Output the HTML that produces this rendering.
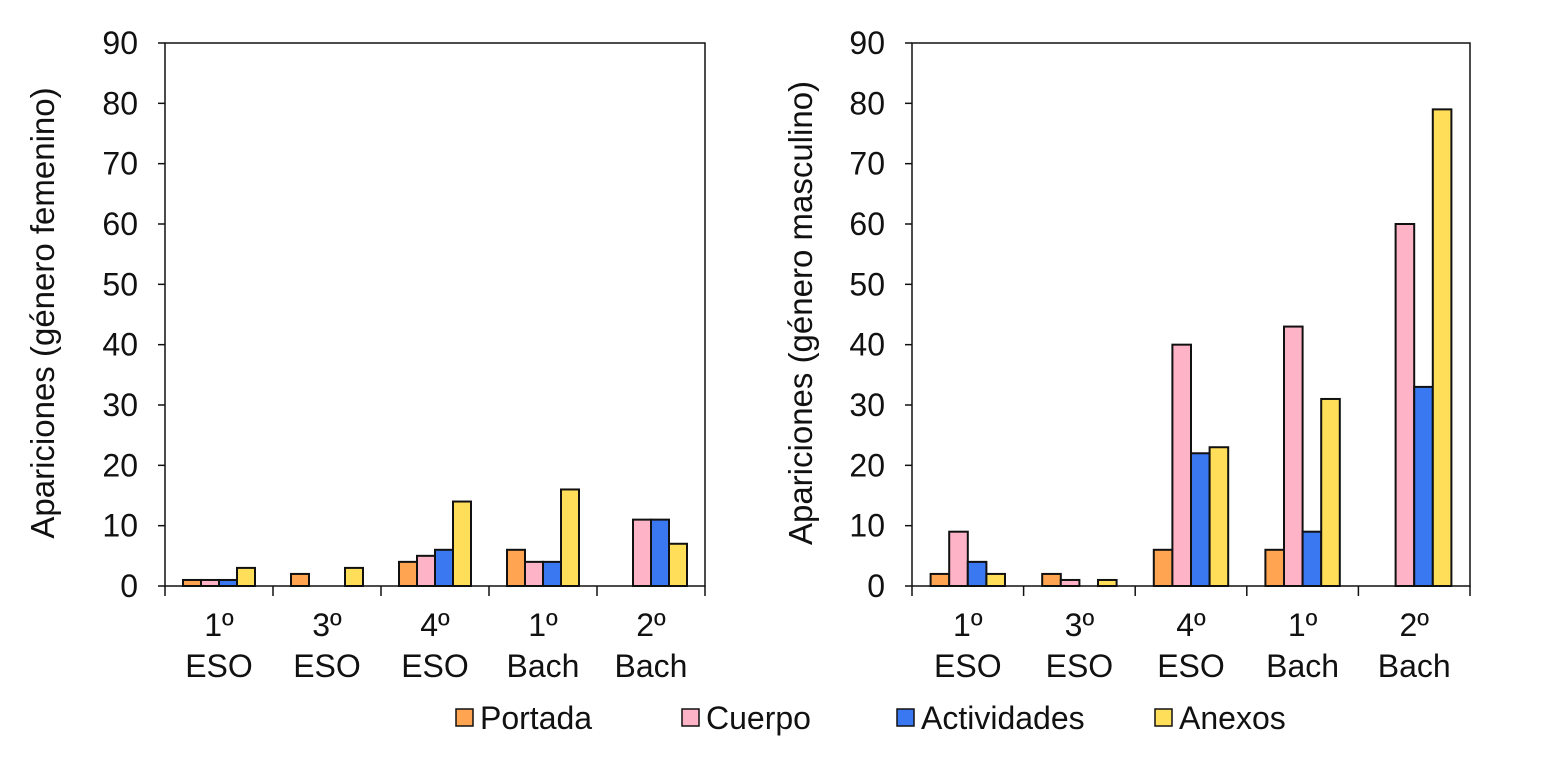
<!DOCTYPE html>
<html><head><meta charset="utf-8"><style>
body{margin:0;background:#fff;}
svg text{font-family:"Liberation Sans",sans-serif;fill:#111;}
</style></head><body>
<svg id="s" width="1542" height="754" xmlns="http://www.w3.org/2000/svg"></svg>
<script>
const categories = [["1º","ESO"],["3º","ESO"],["4º","ESO"],["1º","Bach"],["2º","Bach"]];
const seriesNames = ["Portada","Cuerpo","Actividades","Anexos"];
const colors = ["#FFA552","#FFB3C6","#3A78F2","#FFDE59"];
const femPortada = [1,2,4,6,0];
const femCuerpo = [1,0,5,4,11];
const femActividades = [1,0,6,4,11];
const femAnexos = [3,3,14,16,7];
const masPortada = [2,2,6,6,0];
const masCuerpo = [9,1,40,43,60];
const masActividades = [4,0,22,9,33];
const masAnexos = [2,1,23,31,79];
const yTicks = [0,10,20,30,40,50,60,70,80,90];

const NS="http://www.w3.org/2000/svg";
const svg=document.getElementById('s');
function mk(tag,attrs,parent,txt){const e=document.createElementNS(NS,tag);for(const k in attrs)e.setAttribute(k,attrs[k]);if(txt!==undefined)e.textContent=txt;(parent||svg).appendChild(e);return e;}

function chart(x0,x1,title,titleX,series,name){
  const y0=586,yTop=43,ymax=90;
  const g=mk('g',{});
  
  
  const ys=v=>y0-(v/ymax)*(y0-yTop);
  const cw=(x1-x0)/categories.length, bw=cw/6;
  series.forEach((vals,si)=>{
    vals.forEach((v,ci)=>{
      if(v<=0)return;
      const r=mk('rect',{x:x0+ci*cw+bw*(si+1),y:ys(v),width:bw,height:y0-ys(v),fill:colors[si],stroke:'#111','stroke-width':2},g);
      
      
    });
  });
  const b=mk('rect',{x:x0,y:yTop,width:x1-x0,height:y0-yTop,fill:'none',stroke:'#111','stroke-width':1.5},g);
  
  
  yTicks.forEach(t=>{
    mk('line',{x1:x0-7,x2:x0,y1:ys(t),y2:ys(t),stroke:'#111','stroke-width':1.5},g);
    const tx=mk('text',{x:x0-27,y:ys(t)+11,'font-size':32,'text-anchor':'end'},g,t);
    
    
  });
  for(let i=0;i<=categories.length;i++){
    mk('line',{x1:x0+i*cw,x2:x0+i*cw,y1:y0,y2:y0+10,stroke:'#111','stroke-width':1.5},g);
  }
  categories.forEach((c,i)=>{
    const cx=x0+(i+0.5)*cw;
    const t1=mk('text',{x:cx,y:636,'font-size':32,'text-anchor':'middle'},g,c[0]);
    
    
    const t2=mk('text',{x:cx,y:677,'font-size':32,'text-anchor':'middle'},g,c[1]);
    
    
  });
  const tcy=313;
  const yt=mk('text',{x:titleX,y:tcy,'font-size':33,'text-anchor':'middle',transform:`rotate(-90 ${titleX} ${tcy})`},g,title);
  
  
}
chart(165,705,"Apariciones (género femenino)",54,[femPortada,femCuerpo,femActividades,femAnexos],'chart-femenino');
chart(912,1470,"Apariciones (género masculino)",812,[masPortada,masCuerpo,masActividades,masAnexos],'chart-masculino');

const legX=[456,682,897,1155];
const lg=mk('g',{});


seriesNames.forEach((n,i)=>{
  const r=mk('rect',{x:legX[i],y:709,width:17,height:17,fill:colors[i],stroke:'#111','stroke-width':1.5},lg);
  
  
  const t=mk('text',{x:legX[i]+24,y:729,'font-size':32},lg,n);
  
  
});
</script>
</body></html>
